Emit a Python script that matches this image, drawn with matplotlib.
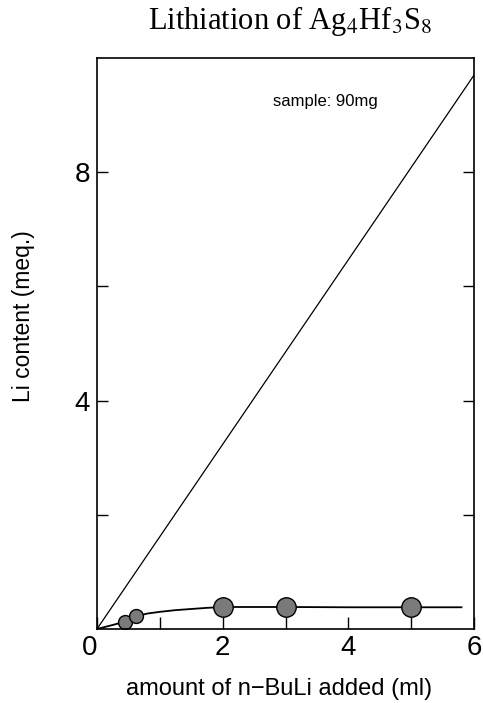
import matplotlib
matplotlib.use("Agg")
import matplotlib.pyplot as plt
import numpy as np

# data
x_pts = [0.45, 0.62, 2.0, 3.0, 5.0]
y_pts = [0.13, 0.22, 0.39, 0.38, 0.39]
big = [False, False, True, True, True]

curve_x = [0.0, 0.25, 0.45, 0.62, 0.8, 1.0, 1.25, 1.5, 1.75, 2.0, 2.5, 3.0, 4.0, 5.0, 5.8]
curve_y = [0.0, 0.07, 0.13, 0.22, 0.27, 0.30, 0.33, 0.35, 0.37, 0.385, 0.385, 0.385, 0.38, 0.38, 0.38]

theory_x = [0.0, 6.0]
theory_y = [0.0, 9.7]

xticks = [0, 2, 4, 6]
xminor = [1, 3, 5]
yticks = [4, 8]
yminor = [2, 6]

fig = plt.figure(figsize=(4.83, 7.03), dpi=100)
ax = fig.add_axes([0.2008, 0.1053, 0.7806, 0.8122])

ax.plot(theory_x, theory_y, color='black', lw=0.9)
ax.plot(curve_x, curve_y, color='black', lw=1.3)
for x, y, b in zip(x_pts, y_pts, big):
    ax.plot(x, y, 'o', ms=14 if b else 10, mfc='#7a7a7a', mec='black', mew=1.0)

ax.set_xlim(0, 6)
ax.set_ylim(0, 10)
ax.set_xticks(xticks)
ax.set_xticks(xminor, minor=True)
ax.set_yticks(yticks)
ax.set_yticks(yminor, minor=True)
ax.tick_params(which='both', direction='in', right=True, top=False, width=1.0)
ax.tick_params(axis='x', which='both', length=9)
ax.tick_params(axis='y', which='both', length=8)
ax.set_xticklabels([str(t) for t in xticks], fontsize=20, family='Liberation Sans')
ax.set_yticklabels([str(t) for t in yticks], fontsize=20, family='Liberation Sans')
ax.tick_params(axis='x', pad=4)
ax.tick_params(axis='y', pad=5)
lbls = ax.get_xticklabels()
lbls[0].set_ha('right')
for s in ax.spines.values():
    s.set_linewidth(1.2)

fig.text(279 / 483, 1 - 689 / 703, 'amount of n\u2212BuLi added (ml)', fontsize=17,
         family='Liberation Sans', ha='center', va='center')
fig.text(24 / 483, 1 - 316 / 703, 'Li content (meq.)', fontsize=16.5,
         family='Liberation Sans', ha='center', va='center', rotation=90)
ax.text(3.63, 9.23, 'sample: 90mg', fontsize=12, family='Liberation Sans', ha='center', va='center')

fig.text(290 / 483, 1 - 21 / 703, r'Lithiation of Ag$_4$Hf$_3$S$_8$', fontsize=22, family='Liberation Serif',
         ha='center', va='center', math_fontfamily='stix')

fig.savefig('out.png', dpi=100)
